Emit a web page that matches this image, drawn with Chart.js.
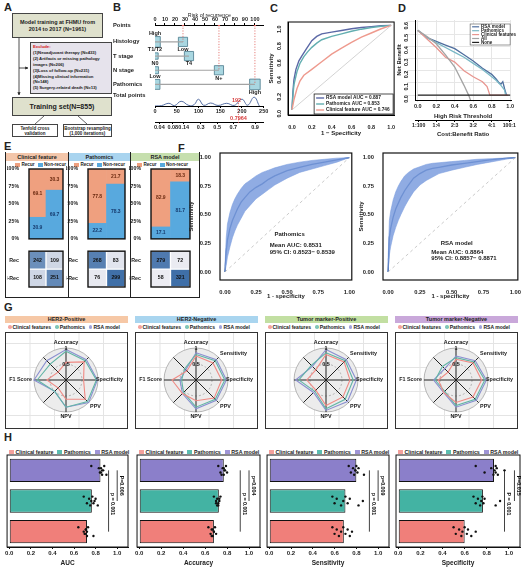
<!DOCTYPE html>
<html><head><meta charset="utf-8"><title>Figure</title>
<script src="https://cdn.jsdelivr.net/npm/chart.js@4.4.1/dist/chart.umd.min.js"></script>
<style>
html,body{margin:0;padding:0;background:#fff;}
#root{position:relative;width:523px;height:580px;overflow:hidden;font-family:'Liberation Sans',Arial,sans-serif;font-weight:bold;color:#222;}
#root div{position:absolute;box-sizing:border-box;}
.plab{font-size:11px;line-height:11px;}
.fbox{border:1px solid #444;display:flex;align-items:center;justify-content:center;text-align:center;}
.hdr{font-size:5.5px;line-height:8px;text-align:center;white-space:nowrap;}
.leg{font-size:5px;line-height:6px;white-space:nowrap;display:flex;align-items:center;}
.sw{display:inline-block;width:5px;height:4px;margin-right:1.5px;}
.dot{display:inline-block;width:3.5px;height:3.5px;border-radius:50%;margin-right:1px;margin-left:2px;}
.gbox{border:1px solid #333;background-color:#fff;background-image:linear-gradient(#e4e4e4 1px,transparent 1px),linear-gradient(90deg,#e4e4e4 1px,transparent 1px);background-size:24.5px 24px;background-position:-1px 10px;}
</style></head>
<body><div id="root">
<div class="plab" style="left:4px;top:2px">A</div>
<div class="plab" style="left:113px;top:2px">B</div>
<div class="plab" style="left:270px;top:3px">C</div>
<div class="plab" style="left:398px;top:3px">D</div>
<div class="plab" style="left:4px;top:141px">E</div>
<div class="plab" style="left:178px;top:143px">F</div>
<div class="plab" style="left:4px;top:302px">G</div>
<div class="plab" style="left:4px;top:432px">H</div>

<div class="fbox" style="left:12px;top:13px;width:91px;height:25px;background:#dfe1cd;font-size:5.5px;line-height:7px">Model training at FHMU from<br>2014 to 2017 (N=1961)</div>
<div class="fbox" style="left:30px;top:42px;width:82px;height:52px;background:#e6e3ec;font-size:4.3px;line-height:5.9px;display:block;text-align:left;padding:1px 0 0 2px;letter-spacing:-0.05px;white-space:nowrap"><span style="color:#d42020">Exclude:</span><br>(1)Neoadjuvant therapy (N=433)<br>(2) Artifacts or missing pathology<br>images (N=206)<br>(3)Loss of follow-up (N=231)<br>(4)Missing clinical information<br>(N=148)<br>(5) Surgery-related death (N=13)</div>
<div class="fbox" style="left:12px;top:97px;width:100px;height:19px;background:#dfe1cd;font-size:7px">Training set(N=855)</div>
<div class="fbox" style="left:12px;top:124px;width:46px;height:13px;font-size:4.5px;line-height:5px;background:#fff">Tenfold cross<br>validation</div>
<div class="fbox" style="left:63px;top:124px;width:49px;height:13px;font-size:4.5px;line-height:5px;background:#fff">Bootstrap resampling<br>(1,000 iterations)</div>
<svg style="position:absolute;left:0;top:0" width="120" height="140">
<defs><marker id="ah" markerWidth="4" markerHeight="4" refX="3.5" refY="2" orient="auto"><path d="M0,0 L4,2 L0,4 z" fill="#222"/></marker></defs>
<line x1="19" y1="38" x2="19" y2="95" stroke="#222" stroke-width="0.8" marker-end="url(#ah)"/>
<line x1="19" y1="68" x2="28" y2="68" stroke="#222" stroke-width="0.8" marker-end="url(#ah)"/>
<line x1="44" y1="116" x2="35" y2="124" stroke="#222" stroke-width="0.7"/>
<line x1="78" y1="116" x2="87" y2="124" stroke="#222" stroke-width="0.7"/>
</svg>

<div style="left:5px;top:152px;width:195px;height:146px;border:1px solid #222;border-top:none"></div>
<div style="left:68px;top:152px;width:1px;height:146px;background:#222"></div>
<div style="left:130px;top:152px;width:1px;height:146px;background:#222"></div>
<div class="hdr" style="left:6px;top:153px;width:62px;height:8px;background:#f3c6aa">Clinical feature</div>
<div class="hdr" style="left:69px;top:153px;width:61px;height:8px;background:#a9d4ef">Pathomics</div>
<div class="hdr" style="left:131px;top:153px;width:68px;height:8px;background:#c6dfae">RSA model</div>
</div>

<script>
// ================= DATA =================
const nomoRows = ['Histology','T stage','N stage','Pathomics'];
const nomoLevelNames = [['High','Low'],['T1/T2','T4'],['N0','N+'],['Low','High']];
const nomoLevelPoints = [[0,28],[0,34],[0,64],[0,100]];
const nomoSelected = [1,null,1,1];
const probLabels = ['0.04','0.08','0.14','0.3','0.5','0.7','0.9'];
const probAtTotal = [10,41,66,105,143,180,230];
const densityTotal = [0,15,32,45,60,78,90,100,112,128,145,165,182,200,213,228,240];
const densityHeight = [0,0.03,0.2,0.03,0.35,0.04,0.1,0.5,0.05,0.22,0.04,0.2,0.04,0.5,0.06,0.65,0];
const patientTotal = 192;
const patientRisk = '0.7964';

const rocRSA = [[0,0],[0.01,0.22],[0.02,0.36],[0.04,0.48],[0.07,0.58],[0.1,0.64],[0.15,0.73],[0.2,0.82],[0.25,0.87],[0.3,0.9],[0.4,0.92],[0.5,0.94],[0.6,0.96],[0.7,0.975],[0.8,0.985],[0.9,0.995],[1,1]];
const rocPathomics = [[0,0],[0.01,0.18],[0.02,0.3],[0.05,0.45],[0.08,0.55],[0.12,0.63],[0.16,0.69],[0.2,0.74],[0.25,0.79],[0.3,0.83],[0.4,0.87],[0.5,0.9],[0.6,0.93],[0.7,0.955],[0.8,0.975],[0.9,0.99],[1,1]];
const rocClinical = [[0,0],[0.02,0.12],[0.05,0.25],[0.08,0.34],[0.12,0.41],[0.2,0.48],[0.3,0.57],[0.4,0.66],[0.5,0.73],[0.6,0.8],[0.7,0.86],[0.8,0.91],[0.9,0.96],[1,1]];
const rocLegend = ['RSA model AUC = 0.887','Pathomics AUC = 0.853','Clinical feature AUC = 0.746'];

const dcaRSA = [[0,0.53],[0.1,0.47],[0.2,0.44],[0.3,0.41],[0.4,0.38],[0.5,0.33],[0.6,0.28],[0.7,0.22],[0.8,0.17],[0.85,0.13],[0.88,0.1],[0.9,0.09],[0.92,0.11],[0.94,0.05],[0.96,0]];
const dcaPathomics = [[0,0.53],[0.1,0.47],[0.2,0.43],[0.3,0.39],[0.4,0.35],[0.5,0.31],[0.6,0.26],[0.7,0.21],[0.8,0.15],[0.85,0.12],[0.9,0.08],[0.94,0.04],[0.95,0]];
const dcaClinical = [[0,0.53],[0.1,0.46],[0.2,0.39],[0.3,0.31],[0.4,0.27],[0.5,0.2],[0.6,0.15],[0.65,0.13],[0.7,0.11],[0.75,0.07],[0.78,0],[0.98,0]];
const dcaAll = [[0,0.53],[0.1,0.48],[0.2,0.42],[0.3,0.33],[0.4,0.23],[0.5,0.08],[0.55,0],[0.58,-0.06]];
const dcaNone = [[0,0],[1,0]];
const dcaNames = ['RSA model','Pathomics','Clinical features','All','None'];
const costTicks = [0.01,0.2,0.4,0.6,0.8,0.99];
const costLabels = ['1:100','1:4','2:3','3:2','4:1','100:1'];

const eModels = ['Clinical feature','Pathomics','RSA model'];
const eGroups = ['High','Low'];
const recurPct = [[69.1,30.3],[77.8,21.7],[82.9,18.3]];
const nonRecurPct = [[30.9,69.7],[22.2,78.3],[17.1,81.7]];
const cmRec = [[242,109],[268,83],[279,72]];
const cmNRec = [[108,251],[76,299],[58,321]];

const fFpr = [0,0.01,0.02,0.04,0.06,0.08,0.1,0.13,0.16,0.2,0.25,0.3,0.35,0.4,0.5,0.6,0.7,0.8,0.9,1];
const fPathMean = [0,0.18,0.28,0.38,0.45,0.5,0.55,0.61,0.65,0.7,0.74,0.77,0.81,0.84,0.885,0.915,0.94,0.96,0.98,1];
const fPathUpper = [0.05,0.3,0.42,0.52,0.59,0.64,0.68,0.73,0.77,0.8,0.84,0.87,0.89,0.91,0.94,0.96,0.975,0.985,0.995,1];
const fPathLower = [0,0.06,0.13,0.22,0.3,0.36,0.41,0.47,0.53,0.58,0.64,0.68,0.72,0.76,0.82,0.87,0.9,0.93,0.96,1];
const fRSAMean = [0,0.3,0.38,0.48,0.55,0.6,0.65,0.71,0.76,0.82,0.86,0.89,0.905,0.915,0.935,0.95,0.965,0.98,0.99,1];
const fRSAUpper = [0.1,0.45,0.53,0.63,0.7,0.75,0.79,0.84,0.87,0.9,0.92,0.94,0.95,0.955,0.965,0.975,0.985,0.99,0.995,1];
const fRSALower = [0,0.15,0.22,0.32,0.39,0.45,0.5,0.57,0.63,0.7,0.76,0.8,0.83,0.86,0.89,0.915,0.94,0.96,0.98,1];
const fTexts = [['Pathomics','Mean AUC: 0.8531','95% CI: 0.8523− 0.8539'],['RSA model','Mean AUC: 0.8864','95% CI: 0.8857− 0.8871']];

const radarAxes = ['Accuracy','Sensitivity','Specificity','PPV','NPV','','F1 Score',''];
const gTitles = ['HER2-Positive','HER2-Negative','Tumor marker-Positive','Tumor marker-Negative'];
const gShown = [[1,0,1,1,1,0,1,0],[1,1,1,1,1,0,1,0],[1,1,1,1,1,0,0,0],[1,1,1,1,1,0,1,0]];
const gClinical = [
 [0.55,0.80,0.55,0.85,0.60,0.35,0.60,0.35],
 [0.75,0.75,0.80,0.80,0.65,0.60,0.75,0.40],
 [0.80,0.80,0.75,0.75,0.80,0.45,0.60,0.45],
 [0.65,0.75,0.80,0.75,0.70,0.55,0.55,0.35]];
const gPathomics = [
 [0.90,0.85,0.95,0.95,0.85,0.50,0.90,0.70],
 [0.80,0.85,0.90,0.85,0.85,0.55,0.45,0.50],
 [0.85,0.85,0.85,0.85,0.90,0.50,0.85,0.65],
 [0.70,0.80,0.90,0.85,0.80,0.50,0.65,0.60]];
const gRSA = [
 [0.95,0.90,0.98,1.00,0.85,0.50,1.00,0.85],
 [0.85,0.90,0.95,0.90,0.90,0.60,0.50,0.45],
 [0.95,0.90,0.95,0.95,0.95,0.55,0.95,0.60],
 [0.75,0.85,0.95,0.90,0.85,0.55,0.70,0.50]];

const hMetrics = ['AUC','Accuracy','Sensitivity','Specificity'];
const hModels = ['RSA model','Pathomics','Clinical feature'];
const hMeans = [[0.845,0.765,0.72],[0.77,0.725,0.68],[0.80,0.70,0.685],[0.865,0.765,0.60]];
const hFolds = [
 [[0.76,0.84,0.85,0.86,0.87,0.88,0.85,0.83,0.9,0.86],[0.69,0.72,0.74,0.75,0.76,0.77,0.78,0.8,0.82,0.79],[0.64,0.7,0.71,0.72,0.72,0.73,0.7,0.71,0.78,0.69]],
 [[0.72,0.74,0.76,0.77,0.78,0.79,0.8,0.77,0.75,0.78],[0.68,0.7,0.71,0.72,0.73,0.74,0.72,0.73,0.71,0.7],[0.63,0.65,0.66,0.67,0.68,0.69,0.7,0.67,0.66,0.68]],
 [[0.73,0.75,0.77,0.78,0.79,0.8,0.81,0.82,0.87,0.79],[0.58,0.6,0.62,0.66,0.68,0.7,0.72,0.74,0.82,0.86],[0.58,0.6,0.62,0.64,0.66,0.68,0.7,0.72,0.74,0.76]],
 [[0.7,0.78,0.84,0.86,0.87,0.88,0.88,0.89,0.9,0.96],[0.68,0.7,0.72,0.74,0.75,0.76,0.77,0.78,0.88,0.92],[0.5,0.52,0.55,0.57,0.58,0.6,0.62,0.63,0.66,0.7]]];
const hPLong = ['p = 0.001','p = 0.001','p = 0.001','P = 0.001'];
const hPShort = ['P=0.006','p=0.004','p=0.009','P=0.015'];
const hTicks = [0,0.2,0.4,0.6,0.8,1.0];

// ================= SETUP =================
const FAM = "'Liberation Sans', Arial, Helvetica, sans-serif";
Chart.defaults.font.family = FAM;
Chart.defaults.font.size = 6;
Chart.defaults.font.weight = 'bold';
Chart.defaults.color = '#222';
Chart.defaults.animation = false;
Chart.defaults.responsive = false;
Chart.defaults.maintainAspectRatio = false;
Chart.defaults.devicePixelRatio = 1;
Chart.defaults.events = [];
Chart.defaults.plugins.legend.display = false;
Chart.defaults.plugins.tooltip.enabled = false;
Chart.defaults.elements.point.radius = 0;
Chart.defaults.elements.point.hoverRadius = 0;

const root = document.getElementById('root');
const F = (size, weight='bold') => ({size, weight, family: FAM});
const XY = arr => arr.map(([x,y]) => ({x, y}));
const zipXY = (xs, ys) => xs.map((x,i) => ({x, y: ys[i]}));
function mk(x,y,w,h,cfg){
  const c = document.createElement('canvas');
  c.width = w; c.height = h;
  c.style.cssText = `position:absolute;left:${x}px;top:${y}px;width:${w}px;height:${h}px;`;
  root.appendChild(c);
  return new Chart(c.getContext('2d'), cfg);
}
function html(s){ root.insertAdjacentHTML('beforeend', s); }
function frame(w=1, color='#000'){
  return {id:'frame', afterDraw(ch){ const a=ch.chartArea, c=ch.ctx; c.save(); c.strokeStyle=color; c.lineWidth=w; c.strokeRect(a.left, a.top, a.right-a.left, a.bottom-a.top); c.restore(); }};
}
function txt(items){
  return {id:'txt', afterDatasetsDraw(ch){
    const c = ch.ctx;
    items.forEach(it => {
      const xs = ch.scales[it.xs||'x'], ys = ch.scales[it.ys||'y'];
      const px = xs.getPixelForValue(it.x) + (it.dx||0), py = ys.getPixelForValue(it.y) + (it.dy||0);
      c.save();
      c.font = `${it.weight||'bold'} ${it.size||6}px ${FAM}`;
      c.fillStyle = it.color||'#222'; c.textAlign = it.align||'center'; c.textBaseline='middle';
      c.translate(px, py); if (it.rot) c.rotate(it.rot);
      c.fillText(it.text, 0, 0); c.restore();
    });
  }};
}

// ================= B: nomogram =================
const rowPos = [1.25, 2.3, 3.35, 4.4];
const totalRowPos = 5.25;
const boxR = [[7.5,6.5],[4.5,6.5],[5,6.5],[7,7.5]];
const bDatasets = [];
nomoRows.forEach((r,i) => {
  const p = nomoLevelPoints[i];
  bDatasets.push({type:'line', xAxisID:'xP', data:[{x:Math.min(...p), y:rowPos[i]},{x:Math.max(...p), y:rowPos[i]}], borderColor:'#a3a3a3', borderWidth:1.2, pointRadius:0});
});
nomoSelected.forEach((lv,i) => {
  if (lv === null) return;
  const x = nomoLevelPoints[i][lv];
  bDatasets.push({type:'line', xAxisID:'xP', data:[{x, y:0},{x, y:rowPos[i]}], borderColor:'#e0605a', borderDash:[1.2,1.5], borderWidth:0.8, pointRadius:0});
});
bDatasets.push({type:'scatter', xAxisID:'xP', data:nomoSelected.map((lv,i)=> lv===null?null:{x:nomoLevelPoints[i][lv], y:0}).filter(Boolean), pointRadius:1.3, backgroundColor:'#e0605a', borderWidth:0});
const boxData = [], boxRad = [];
nomoRows.forEach((r,i) => nomoLevelPoints[i].forEach((p,j) => { boxData.push({x:p, y:rowPos[i]}); boxRad.push(boxR[i][j]); }));
bDatasets.push({type:'scatter', xAxisID:'xP', data:boxData, pointStyle:'rect', pointRadius:boxRad, backgroundColor:'#a9d7e1', borderColor:'#4a7a8c', borderWidth:0.8});
bDatasets.push({type:'scatter', xAxisID:'xP', data:boxData, pointStyle:'cross', pointRadius:1.2, borderColor:'#234', borderWidth:0.6});
bDatasets.push({type:'line', xAxisID:'xT', data:densityTotal.map((t,k)=>({x:t, y:6-densityHeight[k]})), borderColor:'#44609a', borderWidth:0.9, tension:0.45, pointRadius:0});
const nomoYLabels = ['Points', ...nomoRows, 'Total points'];
const bPlug = {id:'bplug', afterDatasetsDraw(ch){
  const c=ch.ctx, xP=ch.scales.xP, xT=ch.scales.xT, xR=ch.scales.xR, y=ch.scales.y;
  c.save(); c.font=`bold 5.5px ${FAM}`; c.fillStyle='#222'; c.textAlign='center'; c.textBaseline='middle';
  nomoRows.forEach((r,i) => nomoLevelPoints[i].forEach((p,j) => {
    const hh = boxR[i][j]*0.707;
    c.fillText(nomoLevelNames[i][j], xP.getPixelForValue(p), y.getPixelForValue(rowPos[i]) + (j===0 ? -(hh+3.2) : (hh+3.2)));
  }));
  const px = xT.getPixelForValue(patientTotal);
  c.strokeStyle='#e05050'; c.setLineDash([1.2,1.5]); c.lineWidth=0.8;
  c.beginPath(); c.moveTo(px, ch.chartArea.bottom-3); c.lineTo(px, xR.top+2); c.stroke(); c.setLineDash([]);
  c.fillStyle='#d84040';
  c.fillText(String(patientTotal), px-2, ch.chartArea.bottom-6);
  c.fillText(patientRisk, px, xT.bottom-3.5);
  c.restore();
}};
mk(113, 12, 159, 122, {
  type:'scatter',
  data:{datasets:bDatasets},
  options:{
    layout:{padding:{left:0,right:6,top:0,bottom:0}},
    scales:{
      xP:{type:'linear',axis:'x',position:'top',min:0,max:108.8,
        ticks:{stepSize:10,includeBounds:false,autoSkip:false,maxRotation:0,font:F(5.5),padding:0},
        grid:{drawOnChartArea:false,color:'#000',tickLength:2}, border:{color:'#000'},
        title:{display:true,text:'Risk of recurrence',font:F(5.3,'normal'),padding:0},
        afterFit:s=>{s.height=13;}},
      xT:{type:'linear',axis:'x',position:'bottom',weight:0,min:0,max:250,
        ticks:{stepSize:50,font:F(5.5),padding:0,maxRotation:0},
        grid:{drawOnChartArea:false,color:'#000',tickLength:2}, border:{color:'#000'},
        afterFit:s=>{s.height=16;}},
      xR:{type:'linear',axis:'x',position:'bottom',weight:1,min:0,max:250,
        afterBuildTicks:s=>{s.ticks=probAtTotal.map(v=>({value:v}));},
        ticks:{autoSkip:false,maxRotation:0,font:F(5.5),padding:0,callback:(v,i)=>probLabels[i]},
        grid:{drawOnChartArea:false,color:'#000',tickLength:2}, border:{color:'#000'},
        afterFit:s=>{s.height=12;}},
      y:{type:'linear',min:0,max:6,reverse:true,
        afterBuildTicks:s=>{s.ticks=[0,...rowPos,totalRowPos].map(v=>({value:v}));},
        ticks:{autoSkip:false,font:F(5.8),crossAlign:'far',padding:2,callback:(v,i)=>nomoYLabels[i]},
        grid:{display:false}, border:{display:false},
        afterFit:s=>{s.width=42;}}
    }
  },
  plugins:[bPlug]
});

// ================= C: ROC =================
const cColors = ['#5b68a6','#62aeb0','#ee9a8e'];
const cLegend = {id:'cleg', afterDatasetsDraw(ch){
  const c=ch.ctx, a=ch.chartArea; const bx=a.right-80, by=a.bottom-21, bw=79, bh=20;
  c.save(); c.fillStyle='#fff'; c.fillRect(bx,by,bw,bh); c.strokeStyle='#222'; c.lineWidth=0.8; c.strokeRect(bx,by,bw,bh);
  c.font=`bold 4.8px ${FAM}`; c.textBaseline='middle';
  rocLegend.forEach((n,i)=>{ const yy=by+4+i*6; c.strokeStyle=cColors[i]; c.lineWidth=1.4; c.beginPath(); c.moveTo(bx+2,yy); c.lineTo(bx+10,yy); c.stroke(); c.fillStyle='#222'; c.fillText(n,bx+12,yy); });
  c.restore();
}};
mk(268, 8, 128, 129, {
  type:'scatter',
  data:{datasets:[
    {type:'line', data:[{x:0,y:0},{x:1,y:1}], borderColor:'#c8c8c8', borderWidth:0.8},
    {type:'line', data:XY(rocClinical), borderColor:cColors[2], borderWidth:1.4},
    {type:'line', data:XY(rocPathomics), borderColor:cColors[1], borderWidth:1.4},
    {type:'line', data:XY(rocRSA), borderColor:cColors[0], borderWidth:1.4}
  ]},
  options:{
    layout:{padding:{top:14,right:1}},
    scales:{
      x:{type:'linear',min:-0.04,max:1.03, afterBuildTicks:s=>{s.ticks=[0,0.2,0.4,0.6,0.8,1].map(v=>({value:v}));},
        ticks:{font:F(5.5),padding:1,maxRotation:0,callback:v=>v.toFixed(1)}, grid:{display:false}, border:{color:'#000'},
        title:{display:true,text:'1 − Specificity',font:F(6),padding:0}, afterFit:s=>{s.height=22;}},
      y:{type:'linear',min:-0.06,max:1.04, afterBuildTicks:s=>{s.ticks=[0,0.2,0.4,0.6,0.8,1].map(v=>({value:v}));},
        ticks:{font:F(5.5),padding:1,minRotation:90,maxRotation:90,callback:v=>v.toFixed(1)}, grid:{display:false}, border:{color:'#000'},
        title:{display:true,text:'Sensitivity',font:F(6),padding:0}, afterFit:s=>{s.width=20;}}
    }
  },
  plugins:[frame(1), cLegend]
});

// ================= D: DCA =================
const dColors = ['#4f6e9e','#7ab8c6','#e8958f','#a3a3a3','#222'];
const dLegend = {id:'dleg', afterDatasetsDraw(ch){
  const c=ch.ctx, a=ch.chartArea; const bw=40, bh=21, bx=a.right-bw-1, by=a.top+4;
  c.save(); c.fillStyle='#fff'; c.fillRect(bx,by,bw,bh); c.strokeStyle='#555'; c.lineWidth=0.6; c.strokeRect(bx,by,bw,bh);
  c.font=`bold 4.5px ${FAM}`; c.textBaseline='middle';
  dcaNames.forEach((n,i)=>{ const yy=by+2.8+i*3.9; c.strokeStyle=dColors[i]; c.lineWidth=1.2; c.beginPath(); c.moveTo(bx+2,yy); c.lineTo(bx+9,yy); c.stroke(); c.fillStyle='#222'; c.fillText(n,bx+11,yy); });
  c.restore();
}};
mk(396, 8, 120, 130, {
  type:'scatter',
  data:{datasets:[
    {type:'line', data:XY(dcaNone), borderColor:dColors[4], borderWidth:1.2},
    {type:'line', data:XY(dcaAll), borderColor:dColors[3], borderWidth:1.3},
    {type:'line', data:XY(dcaClinical), borderColor:dColors[2], borderWidth:1.3},
    {type:'line', data:XY(dcaPathomics), borderColor:dColors[1], borderWidth:1.3},
    {type:'line', data:XY(dcaRSA), borderColor:dColors[0], borderWidth:1.3}
  ]},
  options:{
    layout:{padding:{top:12,right:3}},
    scales:{
      x:{type:'linear',weight:0,min:-0.03,max:1.01, afterBuildTicks:s=>{s.ticks=[0,0.2,0.4,0.6,0.8,1].map(v=>({value:v}));},
        ticks:{font:F(5.5),padding:1,maxRotation:0,callback:v=>v.toFixed(1)}, grid:{color:'#e6e6e6',tickLength:2}, border:{color:'#000'},
        title:{display:true,text:'High Risk Threshold',font:F(6),padding:0}, afterFit:s=>{s.height=20;}},
      xC:{type:'linear',axis:'x',position:'bottom',weight:1,min:-0.03,max:1.01, afterBuildTicks:s=>{s.ticks=costTicks.map(v=>({value:v}));},
        ticks:{autoSkip:false,font:F(5.2),padding:0,maxRotation:0,callback:(v,i)=>costLabels[i]}, grid:{drawOnChartArea:false,color:'#000',tickLength:2}, border:{color:'#000'},
        title:{display:true,text:'Cost:Benefit Ratio',font:F(6),padding:0}, afterFit:s=>{s.height=18;}},
      y:{type:'linear',min:-0.04,max:0.615, afterBuildTicks:s=>{s.ticks=[0,0.1,0.2,0.3,0.4,0.5,0.6].map(v=>({value:v}));},
        ticks:{font:F(5.5),padding:1,minRotation:90,maxRotation:90,callback:v=>v.toFixed(1)}, grid:{color:'#e6e6e6'}, border:{color:'#000'},
        title:{display:true,text:'Net Benefit',font:F(6),padding:0}, afterFit:s=>{s.width=19;}}
    }
  },
  plugins:[dLegend]
});

// ================= E =================
const ePlotLeft = [29, 88, 151], ePlotW = [34, 37, 39];
const cellColor = v => { const t = Math.max(0, Math.min(1, (v-70)/230)); const a=[236,236,242], b=[63,111,168]; return `rgb(${a.map((q,i)=>Math.round(q+(b[i]-q)*t)).join(',')})`; };
eModels.forEach((m,k) => {
  const L = ePlotLeft[k], W = ePlotW[k];
  html(`<div class="leg" style="left:${L-14}px;top:162px;font-size:4.6px"><span class="sw" style="background:#efa07f"></span>Recur<span class="sw" style="background:#58a9de;margin-left:3px"></span>Non-recur</div>`);
  const items = [];
  eGroups.forEach((g,j) => {
    items.push({x:j, y:nonRecurPct[k][j]/2, text:nonRecurPct[k][j].toFixed(1), color:'#163b6e', size:5});
    items.push({x:j, y:nonRecurPct[k][j] + recurPct[k][j]/2, text:recurPct[k][j].toFixed(1), color:'#6b2a10', size:5});
  });
  mk(L-22, 163, W+24, 81, {
    type:'bar',
    data:{labels:eGroups, datasets:[
      {label:'Non-recur', data:nonRecurPct[k], backgroundColor:'#58a9de', barPercentage:1, categoryPercentage:1, borderWidth:0},
      {label:'Recur', data:recurPct[k], backgroundColor:'#efa07f', barPercentage:1, categoryPercentage:1, borderWidth:0}
    ]},
    options:{
      layout:{padding:{top:6,bottom:2,right:2}},
      scales:{
        x:{stacked:true, display:false},
        y:{stacked:true, min:0, max:100, afterBuildTicks:s=>{s.ticks=[0,25,50,75,100].map(v=>({value:v}));},
          ticks:{font:F(5.2),padding:2,callback:v=>v+'%'}, grid:{display:false}, border:{display:false}, afterFit:s=>{s.width=22;}}
      }
    },
    plugins:[frame(1.4,'#111'), txt(items)]
  });
  const mItems = [];
  eGroups.forEach((g,j) => {
    mItems.push({x:j, y:1.5, text:String(cmRec[k][j]), size:5.2, color:'#111'});
    mItems.push({x:j, y:0.5, text:String(cmNRec[k][j]), size:5.2, color:'#111'});
  });
  mk(L-22, 246, W+24, 51, {
    type:'bar',
    data:{labels:eGroups, datasets:[
      {data:[[1,2],[1,2]], backgroundColor:cmRec[k].map(cellColor), borderColor:'#fff', borderWidth:1, borderSkipped:false, barPercentage:1, categoryPercentage:1, grouped:false},
      {data:[[0,1],[0,1]], backgroundColor:cmNRec[k].map(cellColor), borderColor:'#fff', borderWidth:1, borderSkipped:false, barPercentage:1, categoryPercentage:1, grouped:false}
    ]},
    options:{
      layout:{padding:{top:3,right:2}},
      scales:{
        x:{ticks:{font:F(5.3),padding:1}, grid:{display:false}, border:{display:false}, afterFit:s=>{s.height=10;}},
        y:{type:'linear',min:0,max:2, afterBuildTicks:s=>{s.ticks=[{value:0.5},{value:1.5}];},
          ticks:{font:F(5.3),padding:2,callback:(v,i)=>['N-Rec','Rec'][i]}, grid:{display:false}, border:{display:false}, afterFit:s=>{s.width=22;}}
      }
    },
    plugins:[frame(1.4,'#111'), txt(mItems)]
  });
});

// ================= F =================
const fSets = [
  {x:188, w:168, yw:32, mean:fPathMean, up:fPathUpper, lo:fPathLower, tx:fTexts[0], t0:[0.52,0.33], t1:[0.36,0.23], t2:[0.36,0.175]},
  {x:358, w:164, yw:25, mean:fRSAMean, up:fRSAUpper, lo:fRSALower, tx:fTexts[1], t0:[0.54,0.25], t1:[0.34,0.17], t2:[0.34,0.115]}
];
fSets.forEach(s => {
  mk(s.x, 148, s.w, 152, {
    type:'scatter',
    data:{datasets:[
      {type:'line', data:[{x:0,y:0},{x:1,y:1}], borderColor:'#bdbdbd', borderDash:[3,3], borderWidth:0.8},
      {type:'line', data:zipXY(fFpr, s.up), borderColor:'rgba(120,155,222,0.9)', borderWidth:0.6, backgroundColor:'rgba(125,158,222,0.85)', fill:'+1'},
      {type:'line', data:zipXY(fFpr, s.lo), borderColor:'rgba(120,155,222,0.9)', borderWidth:0.6},
      {type:'line', data:zipXY(fFpr, s.mean), borderColor:'#1d4a96', borderWidth:1.3}
    ]},
    options:{
      layout:{padding:{top:5,right:3}},
      scales:{
        x:{type:'linear',min:-0.04,max:1.02, afterBuildTicks:a=>{a.ticks=[0,0.25,0.5,0.75,1].map(v=>({value:v}));},
          ticks:{font:F(5.8),padding:1,maxRotation:0,callback:v=>v.toFixed(2)}, grid:{display:false}, border:{display:false},
          title:{display:true,text:'1 - specificity',font:F(6),padding:0}, afterFit:a=>{a.height=20;}},
        y:{type:'linear',min:-0.07,max:1.04, afterBuildTicks:a=>{a.ticks=[0,0.25,0.5,0.75,1].map(v=>({value:v}));},
          ticks:{font:F(5.8),padding:1,callback:v=>v.toFixed(2)}, grid:{display:false}, border:{display:false},
          title:{display:true,text:'Sensitivity',font:F(6),padding:0}, afterFit:a=>{a.width=s.yw;}}
      }
    },
    plugins:[frame(1.2,'#111'), txt([
      {x:s.t0[0], y:s.t0[1], text:s.tx[0], size:6},
      {x:s.t1[0], y:s.t1[1], text:s.tx[1], size:6, align:'left'},
      {x:s.t2[0], y:s.t2[1], text:s.tx[2], size:6, align:'left'}
    ])]
  });
});

// ================= G: radar =================
const gX = [5,135,265,395];
const gColors = ['#f08a84','#62b5a6','#8a8fd0'];
const gHdr = ['#f6c8a6','#a9d5ef','#c2dfa2','#c9a8da'];
function radarLabels(k){ return {id:'rlab', afterDraw(ch){
  const r = ch.scales.r, c = ch.ctx;
  c.save(); c.font=`bold 5.4px ${FAM}`; c.fillStyle='#222'; c.textBaseline='middle';
  radarAxes.forEach((lab,i) => {
    if (!gShown[k][i] || !lab) return;
    const ang = r.getIndexAngle(i) - Math.PI/2;
    const cs = Math.cos(ang), sn = Math.sin(ang);
    const horiz = Math.abs(cs) > 0.3;
    const p = r.getPointPosition(i, r.drawingArea + (horiz ? 2 : 5));
    c.textAlign = cs > 0.3 ? 'left' : (cs < -0.3 ? 'right' : 'center');
    c.fillText(lab, p.x + (cs > 0.9 ? -4 : 0), p.y + (horiz && Math.abs(sn) > 0.3 ? sn*3 : 0));
  });
  c.restore();
}}; }
gTitles.forEach((t,k) => {
  const x0 = gX[k];
  html(`<div class="hdr" style="left:${x0}px;top:316px;width:123px;height:7px;line-height:7px;background:${gHdr[k]}">${t}</div>`);
  html(`<div class="leg" style="left:${x0+1}px;top:324px;font-size:5px"><span class="dot" style="background:#f4a5a0"></span>Clinical features<span class="dot" style="background:#80c6b8;margin-left:4px"></span>Pathomics<span class="dot" style="background:#a0a3da;margin-left:4px"></span>RSA model</div>`);
  html(`<div class="gbox" style="left:${x0}px;top:332px;width:123px;height:97px"></div>`);
  mk(x0, 332, 123, 97, {
    type:'radar',
    data:{labels:radarAxes, datasets:[
      {data:gClinical[k], borderColor:gColors[0], borderWidth:1.1, fill:false, pointRadius:0},
      {data:gPathomics[k], borderColor:gColors[1], borderWidth:1.1, fill:false, pointRadius:0},
      {data:gRSA[k], borderColor:gColors[2], borderWidth:1.1, fill:false, pointRadius:0}
    ]},
    options:{
      layout:{padding:{top:11,bottom:11,left:2,right:2}},
      scales:{r:{min:0,max:1,
        ticks:{stepSize:0.5,showLabelBackdrop:false,font:F(5.5),color:'#222',z:2,callback:v=>v===0?'0':(v===1?'1':'0.5')},
        grid:{circular:true,color:'#9a9a9a',lineWidth:0.7},
        border:{dash:c=>c.index===1?[2,2]:[]},
        angleLines:{color:'#222',lineWidth:1},
        backgroundColor:'#ececec',
        pointLabels:{display:false}
      }}
    },
    plugins:[radarLabels(k)]
  });
});

// ================= H =================
const hX = [7,137,267,396], hW = [121,123,122,124];
const hColors = ['#8b7fca','#43b3a3','#f07f7a'];
const hLongX = [0.92,0.92,0.92,0.96], hShortX = [1.0,1.0,1.0,1.05];
function hExtras(k){ return {id:'hx', afterDatasetsDraw(ch){
  const c=ch.ctx, xs=ch.scales.x, ys=ch.scales.y;
  c.save(); c.fillStyle='#111';
  hModels.forEach((mod,i) => hFolds[k][i].forEach((v,j) => {
    const px = xs.getPixelForValue(v), py = ys.getPixelForValue(i) + (((j*3)%5)-2)*2.2;
    c.beginPath(); c.arc(px, py, 1.2, 0, Math.PI*2); c.fill();
  }));
  const Lx=xs.getPixelForValue(hLongX[k]), Sx=xs.getPixelForValue(hShortX[k]);
  c.strokeStyle='#111'; c.lineWidth=0.8; c.beginPath();
  c.moveTo(Lx, ys.getPixelForValue(0)); c.lineTo(Lx, ys.getPixelForValue(2));
  c.moveTo(Sx, ys.getPixelForValue(0)); c.lineTo(Sx, ys.getPixelForValue(1)); c.stroke();
  c.font=`bold 5.3px ${FAM}`; c.textAlign='center'; c.textBaseline='middle';
  const y0=ys.getPixelForValue(0), y1=ys.getPixelForValue(1), y2=ys.getPixelForValue(2);
  c.save(); c.translate(Lx+4, (y0+y2)/2 + 3); c.rotate(Math.PI/2); c.fillText(hPLong[k],0,0); c.restore();
  c.save(); c.translate(Sx+4, (y0+y1)/2); c.rotate(Math.PI/2); c.fillText(hPShort[k],0,0); c.restore();
  c.restore();
}}; }
hMetrics.forEach((m,k) => {
  const x0 = hX[k], w = hW[k];
  html(`<div class="leg" style="left:${x0+2}px;top:449px;font-size:5.3px"><span class="sw" style="background:#f4a19c"></span>Clinical feature<span class="sw" style="background:#5cbdb0;margin-left:4px"></span>Pathomics<span class="sw" style="background:#9f95d6;margin-left:4px"></span>RSA model</div>`);
  mk(x0-3, 450, w+6, 117, {
    type:'bar',
    data:{labels:hModels, datasets:[
      {data:hMeans[k], backgroundColor:hColors, borderColor:'#111', borderWidth:1, borderSkipped:false, barPercentage:0.76, categoryPercentage:1}
    ]},
    options:{
      indexAxis:'y',
      layout:{padding:{left:3,right:3,top:5,bottom:0}},
      scales:{
        x:{type:'linear',min:-0.02,max:1.1, afterBuildTicks:s=>{s.ticks=hTicks.map(v=>({value:v}));},
          ticks:{font:F(6),padding:1,maxRotation:0,callback:v=>v.toFixed(1)}, grid:{drawOnChartArea:false,color:'#111',tickLength:2}, border:{color:'#111'},
          title:{display:true,text:m,font:F(6.5),padding:0}, afterFit:s=>{s.height=20;}},
        y:{type:'category',display:false}
      }
    },
    plugins:[frame(1,'#111'), hExtras(k)]
  });
});
</script>
</body></html>
